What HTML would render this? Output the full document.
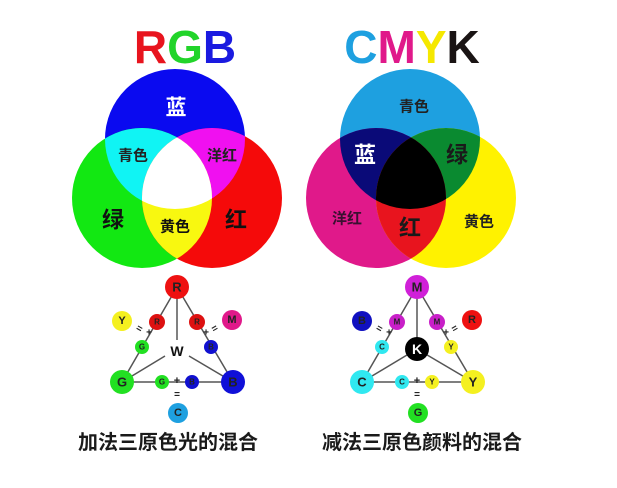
<!DOCTYPE html>
<html><head><meta charset="utf-8"><style>
html,body{margin:0;padding:0;background:#fff;width:617px;height:488px;overflow:hidden}
svg{display:block}
text{font-family:"Liberation Sans","Noto Sans CJK SC",sans-serif;font-weight:bold;text-anchor:middle;dominant-baseline:central}
</style></head><body>
<svg width="617" height="488" viewBox="0 0 617 488" xmlns="http://www.w3.org/2000/svg">
<defs>
<clipPath id="cB"><circle cx="175" cy="139" r="70"/></clipPath>
<clipPath id="cG"><circle cx="142" cy="198" r="70"/></clipPath>
<clipPath id="cR"><circle cx="212" cy="198" r="70"/></clipPath>
<clipPath id="kC"><circle cx="410" cy="139" r="70"/></clipPath>
<clipPath id="kM"><circle cx="376" cy="198" r="70"/></clipPath>
<clipPath id="kY"><circle cx="446" cy="198" r="70"/></clipPath>
</defs>
<!-- titles -->
<text x="185" y="47" font-size="46"><tspan fill="#e8141e">R</tspan><tspan fill="#22d42a">G</tspan><tspan fill="#1a1ae0">B</tspan></text>
<text x="412" y="47" font-size="46"><tspan fill="#1ea0e0">C</tspan><tspan fill="#e0198a">M</tspan><tspan fill="#f5e800">Y</tspan><tspan fill="#1a1414">K</tspan></text>
<!-- RGB -->
<circle cx="175" cy="139" r="70" fill="#0a0af0"/>
<circle cx="142" cy="198" r="70" fill="#12e812"/>
<circle cx="212" cy="198" r="70" fill="#f50a0a"/>
<g clip-path="url(#cB)"><circle cx="142" cy="198" r="70" fill="#10f4f4"/><circle cx="212" cy="198" r="70" fill="#f010f0"/></g>
<g clip-path="url(#cG)"><circle cx="212" cy="198" r="70" fill="#f8f810"/></g>
<g clip-path="url(#cB)"><g clip-path="url(#cG)"><circle cx="212" cy="198" r="70" fill="#fff"/></g></g>
<text x="176" y="108" font-size="21" fill="#fff">蓝</text>
<text x="133" y="156" font-size="15" fill="#222">青色</text>
<text x="222" y="156" font-size="15" fill="#222">洋红</text>
<text x="113" y="220" font-size="22" fill="#111">绿</text>
<text x="175" y="227" font-size="15" fill="#111">黄色</text>
<text x="236" y="220" font-size="22" fill="#111">红</text>
<!-- CMYK -->
<circle cx="410" cy="139" r="70" fill="#1ea0e0"/>
<circle cx="376" cy="198" r="70" fill="#e0198a"/>
<circle cx="446" cy="198" r="70" fill="#fff200"/>
<g clip-path="url(#kC)"><circle cx="376" cy="198" r="70" fill="#0a0a78"/><circle cx="446" cy="198" r="70" fill="#0a8a30"/></g>
<g clip-path="url(#kM)"><circle cx="446" cy="198" r="70" fill="#e8141e"/></g>
<g clip-path="url(#kC)"><g clip-path="url(#kM)"><circle cx="446" cy="198" r="70" fill="#000"/></g></g>
<text x="414" y="107" font-size="15" fill="#222">青色</text>
<text x="365" y="155" font-size="22" fill="#fff">蓝</text>
<text x="457" y="155" font-size="22" fill="#1a1a1a">绿</text>
<text x="347" y="219" font-size="15" fill="#3a1030">洋红</text>
<text x="410" y="228" font-size="22" fill="#1a1a1a">红</text>
<text x="479" y="222" font-size="15" fill="#222">黄色</text>
<!-- RGB small diagram -->
<g stroke="#555" stroke-width="1.5">
<line x1="177" y1="287" x2="122" y2="382"/><line x1="177" y1="287" x2="233" y2="382"/>
<line x1="122" y1="382" x2="233" y2="382"/><line x1="177" y1="287" x2="177" y2="340"/>
<line x1="165" y1="356" x2="122" y2="382"/><line x1="189" y1="356" x2="233" y2="382"/>
<line x1="417" y1="287" x2="362" y2="382"/><line x1="417" y1="287" x2="473" y2="382"/>
<line x1="362" y1="382" x2="473" y2="382"/><line x1="417" y1="287" x2="417" y2="349"/>
<line x1="417" y1="349" x2="362" y2="382"/><line x1="417" y1="349" x2="473" y2="382"/>
</g>
<g font-size="11" fill="#222">
<circle cx="177" cy="287" r="12" fill="#ee1111"/><text x="177" y="287" font-size="13">R</text>
<circle cx="157" cy="322" r="8" fill="#dd1111"/><text x="157" y="322" font-size="8">R</text>
<circle cx="197" cy="322" r="8" fill="#dd1111"/><text x="197" y="322" font-size="8">R</text>
<circle cx="122" cy="321" r="10" fill="#f4f020"/><text x="122" y="321">Y</text>
<circle cx="232" cy="320" r="10" fill="#e0198a"/><text x="232" y="320">M</text>
<circle cx="142" cy="347" r="7" fill="#22e022"/><text x="142" y="347" font-size="8">G</text>
<circle cx="211" cy="347" r="7" fill="#1010d0"/><text x="211" y="347" font-size="8">B</text>
<text x="177" y="351" font-size="14" fill="#111">W</text>
<circle cx="122" cy="382" r="12" fill="#22e022"/><text x="122" y="382" font-size="13">G</text>
<circle cx="233" cy="382" r="12" fill="#1010d8"/><text x="233" y="382" font-size="13">B</text>
<circle cx="162" cy="382" r="7" fill="#22e022"/><text x="162" y="382" font-size="8">G</text>
<circle cx="192" cy="382" r="7" fill="#1010d0"/><text x="192" y="382" font-size="8">B</text>
<text x="177" y="381" font-size="11">+</text><text x="177" y="395" font-size="10">=</text>
<circle cx="178" cy="413" r="10" fill="#1ea0e0"/><text x="178" y="413">C</text>
<text x="139" y="329" font-size="10" transform="rotate(30 139 329)">=</text><text x="149" y="333" font-size="10">+</text>
<text x="206" y="333" font-size="10">+</text><text x="215" y="329" font-size="10" transform="rotate(-30 215 329)">=</text>
<!-- CMYK small -->
<circle cx="417" cy="287" r="12" fill="#d020d8"/><text x="417" y="287" font-size="13">M</text>
<circle cx="397" cy="322" r="8" fill="#c820c8"/><text x="397" y="322" font-size="8">M</text>
<circle cx="437" cy="322" r="8" fill="#c820c8"/><text x="437" y="322" font-size="8">M</text>
<circle cx="362" cy="321" r="10" fill="#1010c0"/><text x="362" y="321">B</text>
<circle cx="472" cy="320" r="10" fill="#ee1111"/><text x="472" y="320">R</text>
<circle cx="382" cy="347" r="7" fill="#30e8f0"/><text x="382" y="347" font-size="8">C</text>
<circle cx="451" cy="347" r="7" fill="#f4f020"/><text x="451" y="347" font-size="8">Y</text>
<circle cx="417" cy="349" r="12" fill="#000"/><text x="417" y="349" font-size="14" fill="#fff">K</text>
<circle cx="362" cy="382" r="12" fill="#30e8f0"/><text x="362" y="382" font-size="13">C</text>
<circle cx="473" cy="382" r="12" fill="#f4f020"/><text x="473" y="382" font-size="13">Y</text>
<circle cx="402" cy="382" r="7" fill="#30e8f0"/><text x="402" y="382" font-size="8">C</text>
<circle cx="432" cy="382" r="7" fill="#f4f020"/><text x="432" y="382" font-size="8">Y</text>
<text x="417" y="381" font-size="11">+</text><text x="417" y="395" font-size="10">=</text>
<circle cx="418" cy="413" r="10" fill="#22e022"/><text x="418" y="413">G</text>
<text x="379" y="329" font-size="10" transform="rotate(30 379 329)">=</text><text x="389" y="333" font-size="10">+</text>
<text x="446" y="333" font-size="10">+</text><text x="455" y="329" font-size="10" transform="rotate(-30 455 329)">=</text>
</g>
<!-- captions -->
<text x="168" y="443" font-size="20" fill="#1a1a1a">加法三原色光的混合</text>
<text x="422" y="443" font-size="20" fill="#1a1a1a">减法三原色颜料的混合</text>
</svg>
</body></html>
